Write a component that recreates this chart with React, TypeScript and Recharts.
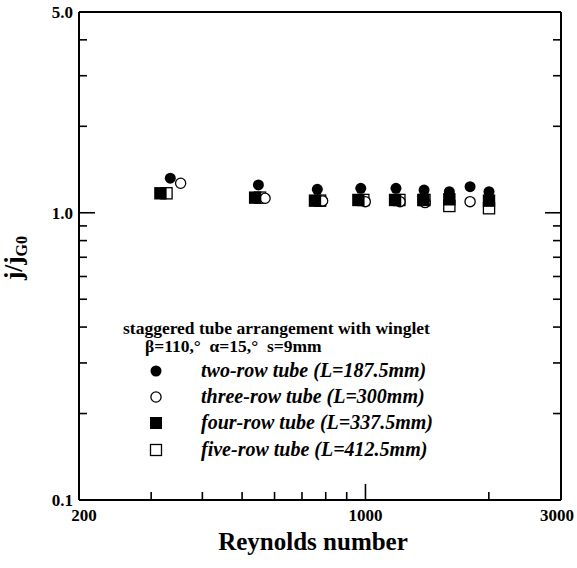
import React from 'react';
import { ScatterChart, Scatter, XAxis, YAxis } from 'recharts';

// axis ticks (log scales)
const reTicks = [200, 300, 400, 500, 600, 700, 800, 900, 1000, 2000, 3000];
const reLabelled = [200, 1000, 3000];
const jTicks = [0.1, 0.2, 0.3, 0.4, 0.5, 0.6, 0.7, 0.8, 0.9, 1, 2, 3, 4, 5];
const jLabelled = [0.1, 1, 5];

const twoRowRe = [334, 548, 763, 974, 1187, 1390, 1602, 1800, 2002];
const twoRowJ = [1.32, 1.25, 1.207, 1.217, 1.217, 1.2, 1.184, 1.233, 1.184];
const threeRowRe = [354, 569, 786, 999, 1214, 1398, 1800];
const threeRowJ = [1.267, 1.123, 1.1, 1.093, 1.093, 1.085, 1.093];
const fourRowRe = [316, 538, 753, 961, 1181, 1384, 1602, 2002];
const fourRowJ = [1.169, 1.129, 1.102, 1.108, 1.108, 1.108, 1.114, 1.102];
const fiveRowRe = [327, 553, 775, 988, 1210, 1393, 1602, 2002];
const fiveRowJ = [1.169, 1.129, 1.102, 1.108, 1.108, 1.108, 1.056, 1.037];

const seriesNames = [
  'two-row tube (L=187.5mm)',
  'three-row tube (L=300mm)',
  'four-row tube (L=337.5mm)',
  'five-row tube (L=412.5mm)',
];

const FONT = '"Liberation Serif", "Times New Roman", serif';

const toPoints = (re: number[], j: number[]) => re.map((r, i) => ({ re: r, j: j[i] }));

const filledCircle = (p: any) => <circle cx={p.cx} cy={p.cy} r={5.5} fill="#000" />;
const openCircle = (p: any) => (
  <circle cx={p.cx} cy={p.cy} r={5.1} fill="#fff" stroke="#000" strokeWidth={1.3} />
);
const filledSquare = (p: any) => (
  <rect x={p.cx - 6.2} y={p.cy - 6.2} width={12.4} height={12.4} fill="#000" />
);
const openSquare = (p: any) => (
  <rect x={p.cx - 5.6} y={p.cy - 5.6} width={11.2} height={11.2} fill="#fff" stroke="#000" strokeWidth={1.3} />
);

const labelStyle = { fontFamily: FONT, fontWeight: 'bold' as const, fontSize: 17, fill: '#000' };

function BottomTick({ x, y, payload }: any) {
  const v = payload.value;
  const big = reLabelled.includes(v);
  const dx = v === 200 ? 5 : v === 3000 ? -4 : 0;
  return (
    <g>
      <line x1={x} y1={y} x2={x} y2={y - (big ? 16 : 8)} stroke="#000" strokeWidth={1.6} />
      {big && (
        <text x={x + dx} y={y + 21} textAnchor="middle" {...labelStyle}>
          {v}
        </text>
      )}
    </g>
  );
}

function TopTick({ x, y, payload }: any) {
  const big = reLabelled.includes(payload.value);
  return <line x1={x} y1={y} x2={x} y2={y + (big ? 16 : 8)} stroke="#000" strokeWidth={1.6} />;
}

function LeftTick({ x, y, payload }: any) {
  const v = payload.value;
  const big = jLabelled.includes(v);
  return (
    <g>
      <line x1={x} y1={y} x2={x + (big ? 16 : 8)} y2={y} stroke="#000" strokeWidth={1.6} />
      {big && (
        <text x={x - 6} y={y + 6} textAnchor="end" {...labelStyle}>
          {v.toFixed(1)}
        </text>
      )}
    </g>
  );
}

function RightTick({ x, y, payload }: any) {
  const big = jLabelled.includes(payload.value);
  return <line x1={x} y1={y} x2={x - (big ? 16 : 8)} y2={y} stroke="#000" strokeWidth={1.6} />;
}

const xTitle = () => (
  <text x={313} y={550} textAnchor="middle" fontFamily={FONT} fontWeight="bold" fontSize={25}>
    Reynolds number
  </text>
);

const yTitle = () => (
  <text
    x={22}
    y={258}
    transform="rotate(-90, 22, 258)"
    textAnchor="middle"
    fontFamily={FONT}
    fontWeight="bold"
    fontSize={25}
  >
    j/j<tspan fontSize={16} dy={5}>G0</tspan>
  </text>
);

const legendMarkers = [
  <circle cx={8} cy={8} r={5.5} fill="#000" />,
  <circle cx={8} cy={8} r={5.1} fill="#fff" stroke="#000" strokeWidth={1.3} />,
  <rect x={2} y={2} width={12} height={12} fill="#000" />,
  <rect x={2.5} y={2.5} width={11} height={11} fill="#fff" stroke="#000" strokeWidth={1.3} />,
];
const legendRowsY = [371, 396.5, 423, 449.5];

export default function App() {
  const axisLine = { stroke: '#000', strokeWidth: 2 };
  return (
    <div style={{ position: 'absolute', left: 0, top: 0, width: 577, height: 568, background: '#fff' }}>
      <ScatterChart width={577} height={568} margin={{ top: 0, right: 0, bottom: 0, left: 0 }}>
        <XAxis
          xAxisId={0}
          dataKey="re"
          type="number"
          scale="log"
          domain={[200, 3000]}
          allowDataOverflow
          ticks={reTicks}
          interval={0}
          tickSize={0}
          tickMargin={0}
          tickLine={false}
          tick={<BottomTick />}
          axisLine={axisLine}
          height={68}
          label={xTitle}
        />
        <XAxis
          xAxisId="top"
          orientation="top"
          type="number"
          scale="log"
          domain={[200, 3000]}
          allowDataOverflow
          ticks={reTicks}
          interval={0}
          tickSize={0}
          tickMargin={0}
          tickLine={false}
          tick={<TopTick />}
          axisLine={axisLine}
          height={12}
        />
        <YAxis
          yAxisId={0}
          dataKey="j"
          type="number"
          scale="log"
          domain={[0.1, 5]}
          allowDataOverflow
          ticks={jTicks}
          interval={0}
          tickSize={0}
          tickMargin={0}
          tickLine={false}
          tick={<LeftTick />}
          axisLine={axisLine}
          width={79}
          label={yTitle}
        />
        <YAxis
          yAxisId="right"
          orientation="right"
          type="number"
          scale="log"
          domain={[0.1, 5]}
          allowDataOverflow
          ticks={jTicks}
          interval={0}
          tickSize={0}
          tickMargin={0}
          tickLine={false}
          tick={<RightTick />}
          axisLine={axisLine}
          width={16}
        />
        <Scatter name={seriesNames[3]} data={toPoints(fiveRowRe, fiveRowJ)} shape={openSquare} isAnimationActive={false} />
        <Scatter name={seriesNames[1]} data={toPoints(threeRowRe, threeRowJ)} shape={openCircle} isAnimationActive={false} />
        <Scatter name={seriesNames[2]} data={toPoints(fourRowRe, fourRowJ)} shape={filledSquare} isAnimationActive={false} />
        <Scatter name={seriesNames[0]} data={toPoints(twoRowRe, twoRowJ)} shape={filledCircle} isAnimationActive={false} />
      </ScatterChart>

      <div
        style={{
          position: 'absolute',
          left: 123,
          top: 318,
          fontFamily: FONT,
          fontWeight: 'bold',
          fontSize: 17.5,
          lineHeight: '20px',
          whiteSpace: 'pre',
        }}
      >
        staggered tube arrangement with winglet
      </div>
      <div
        style={{
          position: 'absolute',
          left: 145,
          top: 336,
          fontFamily: FONT,
          fontWeight: 'bold',
          fontSize: 17.5,
          lineHeight: '20px',
          whiteSpace: 'pre',
        }}
      >
        {'β=110,°  α=15,°  s=9mm'}
      </div>
      {seriesNames.map((name, i) => (
        <div key={name}>
          <svg
            width={16}
            height={16}
            style={{ position: 'absolute', left: 148, top: legendRowsY[i] - 8 }}
          >
            {legendMarkers[i]}
          </svg>
          <div
            style={{
              position: 'absolute',
              left: 201,
              top: legendRowsY[i] - 12,
              fontFamily: FONT,
              fontWeight: 'bold',
              fontStyle: 'italic',
              fontSize: 20,
              lineHeight: '23px',
              whiteSpace: 'pre',
            }}
          >
            {name}
          </div>
        </div>
      ))}
    </div>
  );
}
